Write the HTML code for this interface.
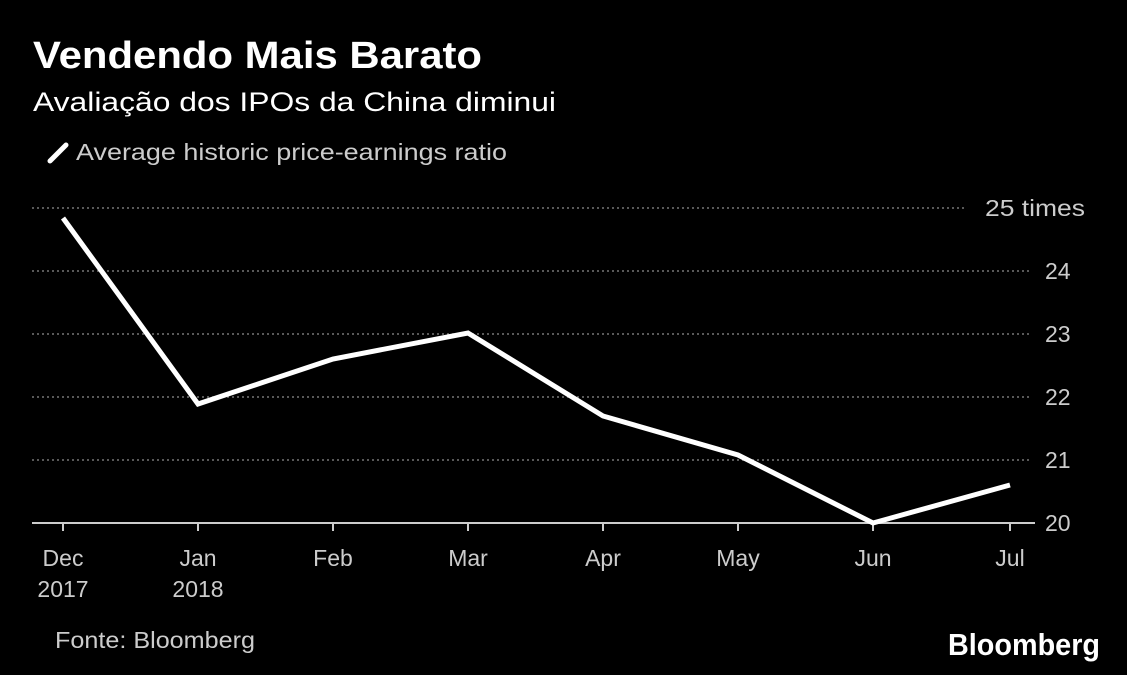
<!DOCTYPE html>
<html><head><meta charset="utf-8"><style>
body{margin:0;background:#000;width:1127px;height:675px;overflow:hidden;font-family:"Liberation Sans",sans-serif;}
</style></head><body>
<svg width="1127" height="675" xmlns="http://www.w3.org/2000/svg" style="display:block">
<rect width="1127" height="675" fill="#000"/>
<text x="33" y="68" fill="#fff" font-size="38" font-weight="bold" textLength="449" lengthAdjust="spacingAndGlyphs" font-family="Liberation Sans, sans-serif">Vendendo Mais Barato</text>
<text x="33" y="111" fill="#fff" font-size="27" textLength="523" lengthAdjust="spacingAndGlyphs" font-family="Liberation Sans, sans-serif">Avaliação dos IPOs da China diminui</text>
<line x1="50" y1="161" x2="66" y2="145" stroke="#fff" stroke-width="5" stroke-linecap="round"/>
<text x="76" y="160" fill="#ccc" font-size="23" textLength="431" lengthAdjust="spacingAndGlyphs" font-family="Liberation Sans, sans-serif">Average historic price-earnings ratio</text>
<g stroke="#777" stroke-width="1.5" stroke-dasharray="2,3">
<line x1="32" y1="208" x2="965" y2="208"/>
<line x1="32" y1="271" x2="1032" y2="271"/>
<line x1="32" y1="334" x2="1032" y2="334"/>
<line x1="32" y1="397" x2="1032" y2="397"/>
<line x1="32" y1="460" x2="1032" y2="460"/>
</g>
<line x1="32" y1="523" x2="1035" y2="523" stroke="#ccc" stroke-width="2"/>
<g stroke="#ccc" stroke-width="2">
<line x1="63" y1="523" x2="63" y2="531"/><line x1="198" y1="523" x2="198" y2="531"/>
<line x1="333" y1="523" x2="333" y2="531"/><line x1="468" y1="523" x2="468" y2="531"/>
<line x1="603" y1="523" x2="603" y2="531"/><line x1="738" y1="523" x2="738" y2="531"/>
<line x1="873" y1="523" x2="873" y2="531"/><line x1="1010" y1="523" x2="1010" y2="531"/>
</g>
<g fill="#ccc" font-size="23" font-family="Liberation Sans, sans-serif">
<text x="985" y="216" textLength="100" lengthAdjust="spacingAndGlyphs">25 times</text>
<text x="1045" y="279">24</text><text x="1045" y="342">23</text>
<text x="1045" y="405">22</text><text x="1045" y="468">21</text><text x="1045" y="531">20</text>
</g>
<g fill="#ccc" font-size="23" font-family="Liberation Sans, sans-serif" text-anchor="middle">
<text x="63" y="566">Dec</text><text x="63" y="597">2017</text>
<text x="198" y="566">Jan</text><text x="198" y="597">2018</text>
<text x="333" y="566">Feb</text><text x="468" y="566">Mar</text>
<text x="603" y="566">Apr</text><text x="738" y="566">May</text>
<text x="873" y="566">Jun</text><text x="1010" y="566">Jul</text>
</g>
<polyline points="63,218 198,404 333,359 468,333 603,416 738,455 873,523 1010,485" fill="none" stroke="#fff" stroke-width="5" stroke-linejoin="miter"/>
<text x="55" y="648" fill="#ccc" font-size="23" textLength="200" lengthAdjust="spacingAndGlyphs" font-family="Liberation Sans, sans-serif">Fonte: Bloomberg</text>
<text x="948" y="655" fill="#fff" font-size="31" font-weight="bold" textLength="152" lengthAdjust="spacingAndGlyphs" font-family="Liberation Sans, sans-serif">Bloomberg</text>
</svg>
</body></html>
